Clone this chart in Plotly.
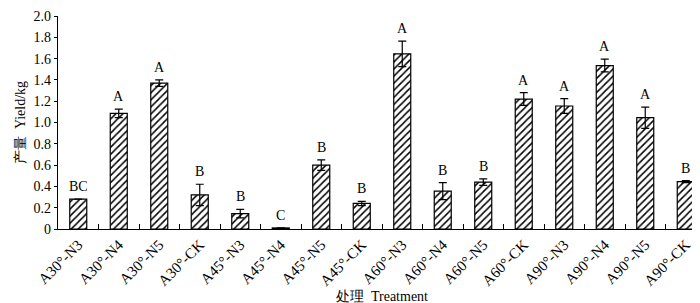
import plotly.graph_objects as go

categories = ["A30°-N3", "A30°-N4", "A30°-N5", "A30°-CK",
              "A45°-N3", "A45°-N4", "A45°-N5", "A45°-CK",
              "A60°-N3", "A60°-N4", "A60°-N5", "A60°-CK",
              "A90°-N3", "A90°-N4", "A90°-N5", "A90°-CK"]
yield_kg = [0.28, 1.085, 1.37, 0.32, 0.145, 0.01, 0.60, 0.24,
            1.645, 0.355, 0.44, 1.22, 1.155, 1.535, 1.045, 0.445]
errors = [0.0, 0.04, 0.03, 0.10, 0.04, 0.0, 0.05, 0.02,
          0.12, 0.08, 0.03, 0.06, 0.07, 0.06, 0.10, 0.01]
letters = ["BC", "A", "A", "B", "B", "C", "B", "B",
           "A", "B", "B", "A", "A", "A", "A", "B"]
ytick_vals = [0, 0.2, 0.4, 0.6, 0.8, 1.0, 1.2, 1.4, 1.6, 1.8, 2.0]
ytick_text = ["0", "0.2", "0.4", "0.6", "0.8", "1.0", "1.2", "1.4", "1.6", "1.8", "2.0"]

FONT = "Liberation Serif, serif"

fig = go.Figure()
fig.add_trace(go.Bar(
    x=categories, y=yield_kg,
    error_y=dict(type="data", array=errors, visible=True, color="black",
                 thickness=1.2, width=4),
    marker=dict(color="white", line=dict(color="black", width=1.2),
                pattern=dict(shape="/", fgcolor="black", bgcolor="white",
                             size=5, solidity=0.3)),
    showlegend=False,
))

for c, v, e, t in zip(categories, yield_kg, errors, letters):
    fig.add_annotation(x=c, y=v + e, text=t, showarrow=False,
                       yanchor="bottom", yshift=3,
                       font=dict(family=FONT, size=14, color="black"))

fig.update_layout(
    template="none",
    width=700, height=303,
    margin=dict(l=50, r=2, t=8, b=82, autoexpand=False),
    paper_bgcolor="white", plot_bgcolor="white",
    bargap=0.58,
    font=dict(family=FONT, size=14, color="black"),
)
fig.update_xaxes(
    type="category", automargin=False, showline=True, linecolor="black", linewidth=1.2,
    ticks="inside", tickson="boundaries", ticklen=5, tickcolor="black",
    tickangle=-45, tickfont=dict(family=FONT, size=15, color="black"),
    title=dict(text="处理  Treatment", font=dict(family=FONT, size=14, color="black"), standoff=2),
    showgrid=False, zeroline=False,
)
fig.update_yaxes(
    automargin=False,
    range=[0, 2.0001], tickvals=ytick_vals, ticktext=ytick_text,
    showline=True, linecolor="black", linewidth=1.2,
    ticks="outside", ticklen=3, tickcolor="black",
    tickfont=dict(family=FONT, size=14, color="black"),
    title=dict(text="产量  Yield/kg", font=dict(family=FONT, size=14, color="black"), standoff=4),
    showgrid=False, zeroline=False,
)

fig.write_html("out.html")
